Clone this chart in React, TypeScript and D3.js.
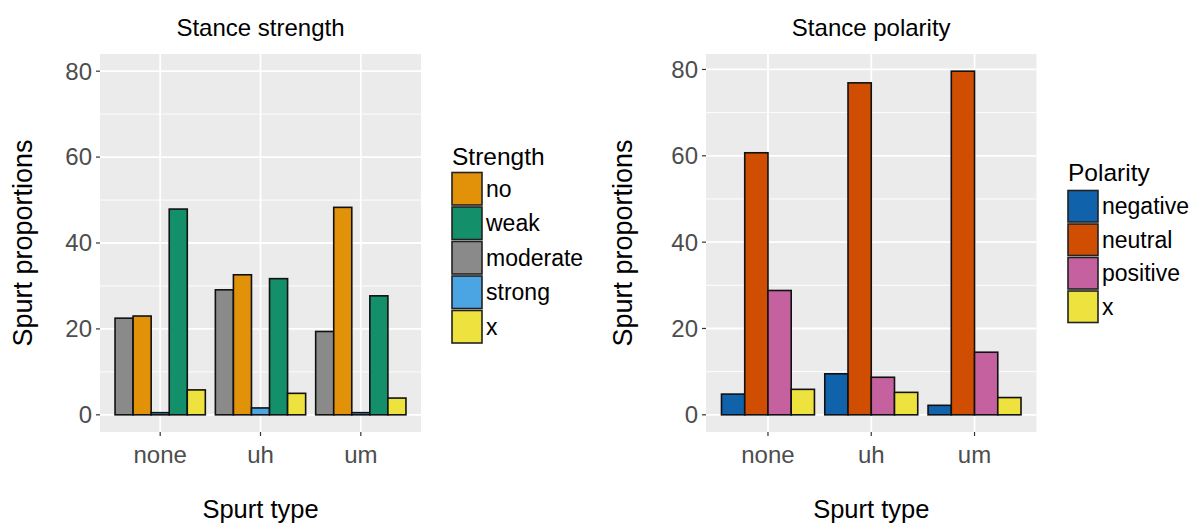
import React from "react";
import * as d3 from "d3";

const categories = ["none", "uh", "um"];

// Stance strength (dodge order: moderate, no, strong, weak, x)
const strengthLevels = ["moderate", "no", "strong", "weak", "x"];
const strengthLegend = ["no", "weak", "moderate", "strong", "x"];
const strengthColors: Record<string, string> = {
  no: "#E29209",
  weak: "#13906A",
  moderate: "#8A8A8A",
  strong: "#4AA5E2",
  x: "#EEE23E",
};
const moderateVals = [22.5, 29.1, 19.4];
const noVals = [23.0, 32.6, 48.3];
const strongVals = [0.5, 1.6, 0.5];
const weakVals = [47.9, 31.7, 27.7];
const strengthXVals = [5.8, 5.0, 3.9];

// Stance polarity
const polarityLevels = ["negative", "neutral", "positive", "x"];
const polarityColors: Record<string, string> = {
  negative: "#1062AA",
  neutral: "#CF4E02",
  positive: "#C4619E",
  x: "#EEE23E",
};
const negativeVals = [4.8, 9.5, 2.2];
const neutralVals = [60.7, 76.9, 79.6];
const positiveVals = [28.8, 8.7, 14.5];
const polarityXVals = [5.9, 5.2, 4.0];

const yTicks = [0, 20, 40, 60, 80];
const yMinor = [10, 30, 50, 70];

const FONT = "'Liberation Sans', Arial, Helvetica, sans-serif";

type Series = { key: string; values: number[] };

function Panel(props: {
  x0: number;
  x1: number;
  y0: number;
  y1: number;
  title: string;
  series: Series[];
  colors: Record<string, string>;
  yMax: number;
  yTitleX: number;
}) {
  const { x0, x1, y0, y1, title, series, colors, yMax, yTitleX } = props;
  const y = d3.scaleLinear().domain([-0.05 * yMax, 1.05 * yMax]).range([y1, y0]);
  const x = d3.scalePoint<string>().domain(categories).range([x0, x1]).padding(0.6);
  const step = x.step();
  const sub = d3
    .scaleBand<string>()
    .domain(series.map((s) => s.key))
    .range([-0.45 * step, 0.45 * step])
    .paddingInner(0);
  const cx = (x0 + x1) / 2;
  const cy = (y0 + y1) / 2;
  return (
    <g>
      <rect x={x0} y={y0} width={x1 - x0} height={y1 - y0} fill="#EBEBEB" />
      {yMinor.filter((v) => y(v) > y0).map((v) => (
        <line key={"mn" + v} x1={x0} x2={x1} y1={y(v)} y2={y(v)} stroke="#fff" strokeWidth={0.9} />
      ))}
      {yTicks.map((v) => (
        <line key={"mj" + v} x1={x0} x2={x1} y1={y(v)} y2={y(v)} stroke="#fff" strokeWidth={1.8} />
      ))}
      {categories.map((c) => (
        <line key={"vx" + c} x1={x(c)!} x2={x(c)!} y1={y0} y2={y1} stroke="#fff" strokeWidth={1.8} />
      ))}
      {series.map((s) =>
        s.values.map((v, i) => {
          const bx = x(categories[i])! + sub(s.key)!;
          return (
            <rect
              key={s.key + i}
              x={bx}
              y={y(v)}
              width={sub.bandwidth()}
              height={y(0) - y(v)}
              fill={colors[s.key]}
              stroke="#111"
              strokeWidth={1.6}
            />
          );
        })
      )}
      {yTicks.map((v) => (
        <g key={"yt" + v}>
          <line x1={x0 - 4} x2={x0} y1={y(v)} y2={y(v)} stroke="#333" strokeWidth={1.2} />
          <text x={x0 - 8} y={y(v)} dy="0.35em" textAnchor="end" fontSize={24} fill="#4D4D4D" fontFamily={FONT}>
            {v}
          </text>
        </g>
      ))}
      {categories.map((c) => (
        <g key={"xt" + c}>
          <line x1={x(c)!} x2={x(c)!} y1={y1} y2={y1 + 4} stroke="#333" strokeWidth={1.2} />
          <text x={x(c)!} y={y1 + 31} textAnchor="middle" fontSize={24} fill="#4D4D4D" fontFamily={FONT}>
            {c}
          </text>
        </g>
      ))}
      <text x={cx} y={36} textAnchor="middle" fontSize={24} fill="#000" fontFamily={FONT}>
        {title}
      </text>
      <text x={cx} y={518} textAnchor="middle" fontSize={25.5} fill="#000" fontFamily={FONT}>
        Spurt type
      </text>
      <text
        transform={`translate(${yTitleX},${cy}) rotate(-90)`}
        textAnchor="middle"
        fontSize={27}
        fill="#000"
        fontFamily={FONT}
      >
        Spurt proportions
      </text>
    </g>
  );
}

function Legend(props: {
  x: number;
  titleY: number;
  keyY: number;
  pitch: number;
  title: string;
  items: string[];
  colors: Record<string, string>;
}) {
  const { x, titleY, keyY, pitch, title, items, colors } = props;
  const kw = 30;
  const kh = pitch - 2;
  return (
    <g>
      <text x={x} y={titleY} fontSize={24.5} fill="#000" fontFamily={FONT}>
        {title}
      </text>
      {items.map((it, i) => {
        const ky = keyY + i * pitch;
        return (
          <g key={it}>
            <rect x={x} y={ky} width={kw} height={kh} fill={colors[it]} stroke="#222" strokeWidth={1.6} />
            <text x={x + kw + 4} y={ky + kh / 2} dy="0.35em" fontSize={23} fill="#000" fontFamily={FONT}>
              {it}
            </text>
          </g>
        );
      })}
    </g>
  );
}

export default function App() {
  const strengthSeries: Series[] = [
    { key: "moderate", values: moderateVals },
    { key: "no", values: noVals },
    { key: "strong", values: strongVals },
    { key: "weak", values: weakVals },
    { key: "x", values: strengthXVals },
  ].filter((s) => strengthLevels.includes(s.key));
  const polaritySeries: Series[] = [
    { key: "negative", values: negativeVals },
    { key: "neutral", values: neutralVals },
    { key: "positive", values: positiveVals },
    { key: "x", values: polarityXVals },
  ].filter((s) => polarityLevels.includes(s.key));
  const polMax = d3.max(polaritySeries.flatMap((s) => s.values)) as number;
  return (
    <svg
      width={1194}
      height={525}
      style={{ position: "absolute", left: 0, top: 0, background: "#fff" }}
    >
      <rect x={0} y={0} width={1194} height={525} fill="#fff" />
      <Panel
        x0={100}
        x1={421}
        y0={54}
        y1={432}
        title="Stance strength"
        series={strengthSeries}
        colors={strengthColors}
        yMax={80}
        yTitleX={32}
      />
      <Legend
        x={452}
        titleY={165}
        keyY={172.5}
        pitch={34.5}
        title="Strength"
        items={strengthLegend}
        colors={strengthColors}
      />
      <Panel
        x0={706}
        x1={1036.5}
        y0={54}
        y1={432}
        title="Stance polarity"
        series={polaritySeries}
        colors={polarityColors}
        yMax={polMax}
        yTitleX={632}
      />
      <Legend
        x={1068}
        titleY={181}
        keyY={190.5}
        pitch={33.5}
        title="Polarity"
        items={polarityLevels}
        colors={polarityColors}
      />
    </svg>
  );
}
